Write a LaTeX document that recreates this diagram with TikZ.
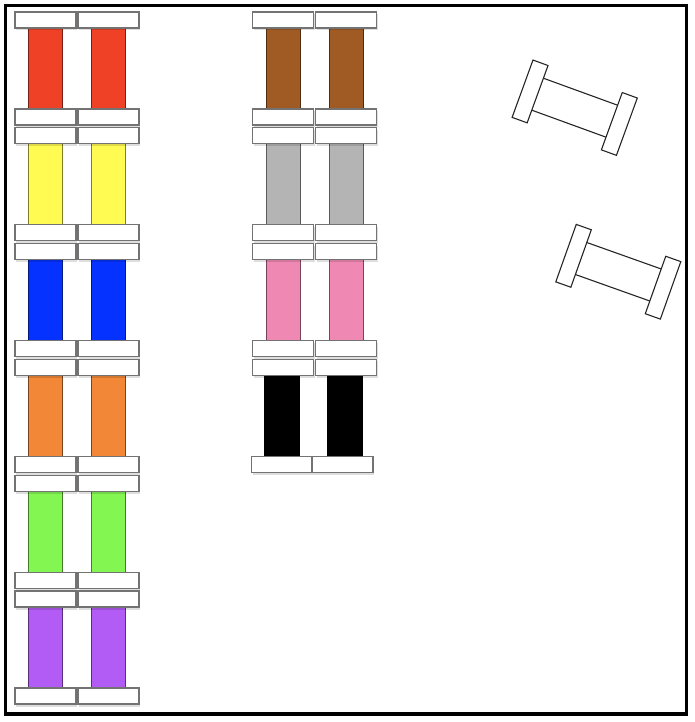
\documentclass[tikz,border=0pt]{standalone}
\definecolor{cred}{RGB}{238,65,37}
\definecolor{cyellow}{RGB}{255,251,82}
\definecolor{cblue}{RGB}{5,50,255}
\definecolor{corange}{RGB}{242,135,55}
\definecolor{cgreen}{RGB}{132,246,82}
\definecolor{cpurple}{RGB}{178,92,245}
\definecolor{cbrown}{RGB}{160,90,35}
\definecolor{cgray}{RGB}{180,180,180}
\definecolor{cpink}{RGB}{240,136,180}
\definecolor{cblack}{RGB}{0,0,0}
\tikzset{
  spoolcap/.style={fill=white,draw=black!55,line width=1.3pt},
  capshadow/.style={fill=black,opacity=0.13},
  spoolbar/.style={fill=#1,draw=#1!50!black,line width=1pt},
  frameline/.style={draw=black,line width=3.5pt},
  rcap/.style={fill=white,draw=black!85,line width=1.1pt},
  rbody/.style={fill=white,draw=black!85,line width=1.1pt},
}
% #1 centre x, #2 top y, #3 colour
\newcommand\vspool[3]{%
  \path[spoolbar=#3] (#1-17,#2+16) rectangle (#1+17,#2+97);
  \fill[capshadow] (#1-29.5,#2+2) rectangle (#1+31.5,#2+18.5);
  \path[spoolcap] (#1-30.5,#2) rectangle (#1+30.5,#2+16);
  \fill[capshadow] (#1-29.5,#2+99) rectangle (#1+31.5,#2+115.5);
  \path[spoolcap] (#1-30.5,#2+97) rectangle (#1+30.5,#2+113);
}
% rotated spool: #1 centre, #2 angle
\newcommand\rspool[2]{%
  \begin{scope}[shift={#1},rotate=#2]
    \path[rbody] (-40,-17) rectangle (40,17);
    \path[rcap] (-55.5,-30.5) rectangle (-39.5,30.5);
    \path[rcap] (39.5,-30.5) rectangle (55.5,30.5);
  \end{scope}
}
\begin{document}
\begin{tikzpicture}[x=1pt,y=-1pt]
  \useasboundingbox (0,0) rectangle (694,722);
  \fill[white] (0,0) rectangle (694,722);
  % left column
  \foreach \t/\c in {12/cred,127.8/cyellow,243.6/cblue,359.4/corange,475.2/cgreen,591/cpurple}{
    \vspool{45.5}{\t}{\c}
    \vspool{108.5}{\t}{\c}
  }
  % right column
  \foreach \t/\c in {12/cbrown,127.8/cgray,243.6/cpink}{
    \vspool{283}{\t}{\c}
    \vspool{346}{\t}{\c}
  }
  % black spools (bottom caps touching)
  \path[spoolbar=cblack] (264,375.4) rectangle (299,456.4);
  \path[spoolbar=cblack] (327,375.4) rectangle (362,456.4);
  \fill[capshadow] (253.5,361.4) rectangle (314.5,377.9);
  \path[spoolcap] (252.5,359.4) rectangle (313.5,375.4);
  \fill[capshadow] (316.5,361.4) rectangle (377.5,377.9);
  \path[spoolcap] (315.5,359.4) rectangle (376.5,375.4);
  \fill[capshadow] (252.5,458.4) rectangle (313,474.9);
  \path[spoolcap] (251.5,456.4) rectangle (312,472.4);
  \fill[capshadow] (313,458.4) rectangle (374,474.9);
  \path[spoolcap] (312,456.4) rectangle (373,472.4);
  % rotated spools
  \rspool{(574.7,107.7)}{-20}
  \rspool{(618.3,271.75)}{-19.6}
  % frame
  \draw[frameline] (5.5,5.5) rectangle (686.5,714);
\end{tikzpicture}
\end{document}
